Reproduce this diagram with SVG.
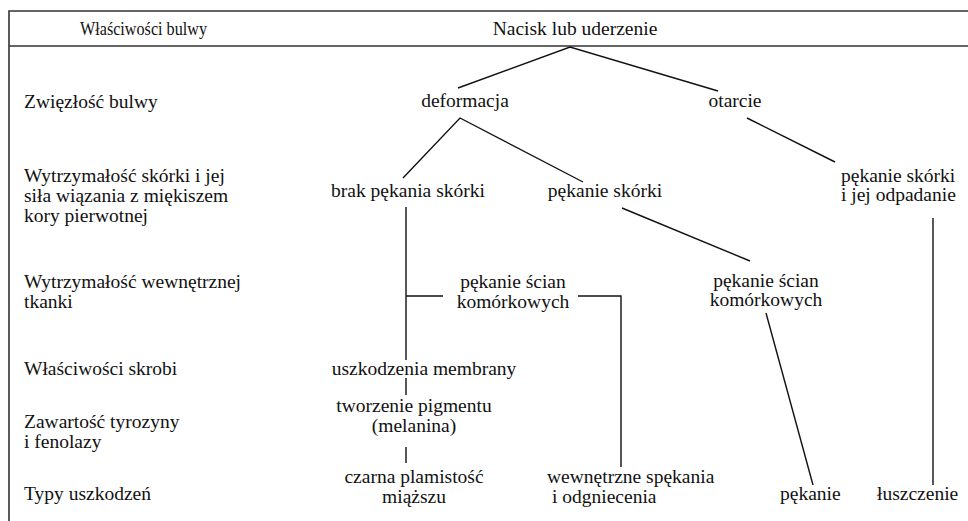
<svg xmlns="http://www.w3.org/2000/svg" width="968" height="521" viewBox="0 0 968 521">
<style>
text{font-family:"Liberation Serif","Times New Roman",serif;font-size:19.5px;fill:#111}
.c{text-anchor:middle}
.frame{stroke:#333;stroke-width:1.6;fill:none}
.ln{stroke:#111;stroke-width:1.4;fill:none}
</style>
<rect width="968" height="521" fill="#fff"/>
<g id="frame">
<polyline class="frame" points="968,11 9,11 9,521"/>
<line class="frame" x1="9" y1="46" x2="968" y2="46"/>
</g>
<g id="header">
<text x="80" y="35" style="font-size:18.5px" textLength="127" lengthAdjust="spacingAndGlyphs">Właściwości bulwy</text>
<text class="c" x="575" y="35">Nacisk lub uderzenie</text>
</g>
<g id="labels">
<text x="24" y="108">Zwięzłość bulwy</text>
<text x="24" y="182">Wytrzymałość skórki i jej</text>
<text x="24" y="202">siła wiązania z miękiszem</text>
<text x="24" y="222">kory pierwotnej</text>
<text x="24" y="288">Wytrzymałość wewnętrznej</text>
<text x="24" y="308">tkanki</text>
<text x="24" y="375">Właściwości skrobi</text>
<text x="24" y="428">Zawartość tyrozyny</text>
<text x="24" y="448">i fenolazy</text>
<text x="24" y="500">Typy uszkodzeń</text>
</g>
<g id="connectors">
<polyline class="ln" points="458,88 570,47 718,91"/>
<polyline class="ln" points="403,178 460,118 583,182"/>
<line class="ln" x1="406" y1="207" x2="406" y2="360"/>
<line class="ln" x1="406" y1="296" x2="443" y2="296"/>
<polyline class="ln" points="578,296 621,296 621,467"/>
<line class="ln" x1="622" y1="208" x2="750" y2="261"/>
<line class="ln" x1="747" y1="118" x2="835" y2="162"/>
<line class="ln" x1="933" y1="218" x2="933" y2="485"/>
<line class="ln" x1="766" y1="313" x2="813" y2="485"/>
<line class="ln" x1="406" y1="378" x2="406" y2="395"/>
<line class="ln" x1="406" y1="447" x2="406" y2="463"/>
</g>
<g id="n-deformacja"><text class="c" x="465" y="107">deformacja</text></g>
<g id="n-otarcie"><text class="c" x="735" y="107">otarcie</text></g>
<g id="n-brak"><text class="c" x="408" y="197">brak pękania skórki</text></g>
<g id="n-pekanie-skorki"><text class="c" x="605" y="197">pękanie skórki</text></g>
<g id="n-pekanie-odpadanie"><text x="841" y="182">pękanie skórki</text><text x="841" y="201">i jej odpadanie</text></g>
<g id="n-sciany1"><text class="c" x="513" y="288">pękanie ścian</text><text class="c" x="513" y="308">komórkowych</text></g>
<g id="n-sciany2"><text class="c" x="766" y="287">pękanie ścian</text><text class="c" x="766" y="306">komórkowych</text></g>
<g id="n-membrana"><text class="c" x="424" y="375">uszkodzenia membrany</text></g>
<g id="n-pigment"><text class="c" x="414" y="412">tworzenie pigmentu</text><text class="c" x="414" y="432">(melanina)</text></g>
<g id="n-czarna"><text class="c" x="414" y="483">czarna plamistość</text><text class="c" x="414" y="503">miąższu</text></g>
<g id="n-wewn"><text x="547" y="483">wewnętrzne spękania</text><text x="552" y="503">i odgniecenia</text></g>
<g id="n-pekanie"><text x="780" y="500">pękanie</text></g>
<g id="n-luszczenie"><text x="877" y="500">łuszczenie</text></g>
</svg>
